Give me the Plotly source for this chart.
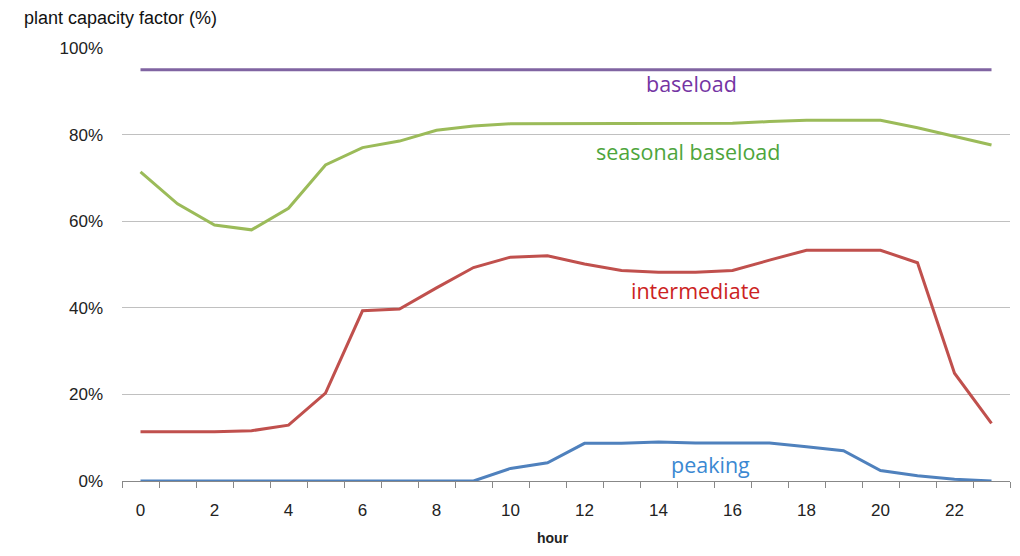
import plotly.graph_objects as go

hours = list(range(24))
baseload = [95] * 24
seasonal_baseload = [71.4, 64.0, 59.1, 58.0, 63.0, 73.0, 77.0, 78.5, 81.0, 82.0, 82.5, 82.5,
                     82.5, 82.5, 82.5, 82.5, 82.6, 83.0, 83.3, 83.3, 83.3, 81.6, 79.6, 77.6]
intermediate = [11.4, 11.4, 11.4, 11.6, 12.9, 20.3, 39.3, 39.7, 44.6, 49.3, 51.7, 52.0,
                50.1, 48.6, 48.2, 48.2, 48.6, 51.0, 53.3, 53.3, 53.3, 50.4, 24.9, 13.3]
peaking = [0, 0, 0, 0, 0, 0, 0, 0, 0, 0, 2.9, 4.2,
           8.7, 8.7, 9.0, 8.8, 8.8, 8.8, 7.9, 7.0, 2.4, 1.2, 0.4, 0.0]

y_ticks = [0, 20, 40, 60, 80, 100]
y_tick_labels = ["0%", "20%", "40%", "60%", "80%", "100%"]
x_ticks = list(range(0, 24, 2))

series = [
    ("baseload", baseload, "#8064A2", "#7434A3", 14.9, 91.9),
    ("seasonal baseload", seasonal_baseload, "#9BBB59", "#4EA53C", 14.8, 76.2),
    ("intermediate", intermediate, "#C0504D", "#CC2222", 15.0, 43.9),
    ("peaking", peaking, "#4F81BD", "#3A88D2", 15.4, 3.9),
]

# the page body has an 8px margin; figure pixel coords = screen coords - 8
OFF = 8
W, H = 1004, 540
ml, mt = 122 - OFF, 48 - OFF
pw, ph = 1010 - 122, 481 - 48
mr, mb = W - ml - pw, H - mt - ph

fig = go.Figure()
for name, vals, lc, tc, lx, ly in series:
    fig.add_trace(go.Scatter(x=hours, y=vals, mode="lines", name=name,
                             line=dict(color=lc, width=3), showlegend=False,
                             hoverinfo="skip"))
    fig.add_annotation(x=lx, y=ly, xref="x", yref="y", text=name, showarrow=False,
                       font=dict(family="Open Sans", size=21.5, color=tc))

fig.add_annotation(x=(22 - 122) / pw, y=1 - (18 - 48) / ph, xref="paper", yref="paper",
                   text="plant capacity factor (%)", showarrow=False,
                   xanchor="left", yanchor="middle",
                   font=dict(family="Liberation Sans", size=18, color="#111"))
fig.add_annotation(x=(553 - 122) / pw, y=1 - (H - mt) / ph, xref="paper", yref="paper",
                   text="<b>hour</b>", showarrow=False, xanchor="center", yanchor="bottom",
                   font=dict(family="Liberation Sans", size=14, color="#222"))

fig.update_layout(
    width=W, height=H,
    margin=dict(l=ml, r=mr, t=mt, b=mb),
    paper_bgcolor="white", plot_bgcolor="white",
    xaxis=dict(range=[-0.5, 23.5], tickvals=x_ticks, ticktext=[str(v) for v in x_ticks],
               showgrid=False, zeroline=False, showline=True, linecolor="#888888", linewidth=1,
               ticks="", ticklabelstandoff=14,
               tickfont=dict(family="Liberation Sans", size=17, color="#222"),
               minor=dict(tickvals=[h - 0.5 for h in range(25)], ticks="outside",
                          ticklen=6, tickcolor="#888888", showgrid=False)),
    yaxis=dict(range=[0, 100], tickvals=y_ticks, ticktext=y_tick_labels,
               showgrid=True, gridcolor="#C0C0C0", gridwidth=1, zeroline=False,
               showline=False, ticks="", ticklabelstandoff=18,
               tickfont=dict(family="Liberation Sans", size=17, color="#222")),
)

fig.write_html("out.html")
